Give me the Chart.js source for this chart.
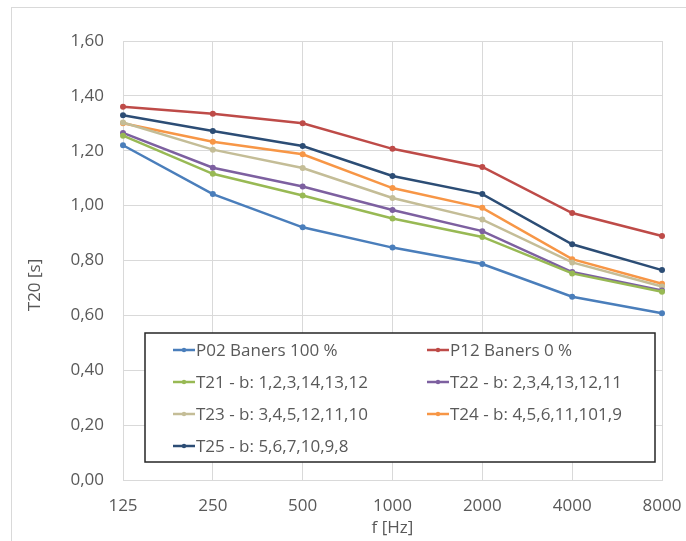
<!DOCTYPE html>
<html>
<head>
<meta charset="utf-8">
<script src="https://cdn.jsdelivr.net/npm/chart.js@4.4.1/dist/chart.umd.min.js"></script>
<style>
  html, body { margin: 0; padding: 0; background: #ffffff; }
  #wrap { width: 686px; height: 541px; }
</style>
</head>
<body>
<div id="wrap"><canvas id="chart" width="686" height="541"></canvas></div>
<script>
// frequency bands (x categories)
const frequencies = ['125', '250', '500', '1000', '2000', '4000', '8000'];

// T20 values in seconds
const p02 = [1.220, 1.042, 0.921, 0.847, 0.787, 0.668, 0.608];
const p12 = [1.360, 1.335, 1.300, 1.207, 1.141, 0.973, 0.889];
const t21 = [1.255, 1.116, 1.037, 0.953, 0.886, 0.753, 0.686];
const t22 = [1.265, 1.138, 1.070, 0.984, 0.907, 0.758, 0.691];
const t23 = [1.303, 1.204, 1.137, 1.028, 0.949, 0.793, 0.705];
const t24 = [1.300, 1.233, 1.187, 1.064, 0.992, 0.805, 0.715];
const t25 = [1.329, 1.272, 1.217, 1.108, 1.042, 0.859, 0.765];

const seriesNames = [
    'P02 Baners 100 %',
    'P12 Baners 0 %',
    'T21 - b: 1,2,3,14,13,12',
    'T22 - b: 2,3,4,13,12,11',
    'T23 - b: 3,4,5,12,11,10',
    'T24 - b: 4,5,6,11,101,9',
    'T25 - b: 5,6,7,10,9,8'
];
const seriesValues = [p02, p12, t21, t22, t23, t24, t25];
const seriesColors = ['#4a7ebb', '#be4b48', '#98b954', '#7d60a0', '#c4bd97', '#f79646', '#2c4d75'];

const yTicks = { min: 0, max: 1.6, step: 0.2 };

const FONT = '"Open Sans", "Liberation Sans", sans-serif';
const TEXT_GRAY = '#595959';
const GRID_GRAY = '#d9d9d9';

// outer frame of the chart object (only the top and left edge are in view)
const framePlugin = {
    id: 'frame',
    beforeDraw(chart) {
        const ctx = chart.ctx;
        ctx.save();
        ctx.strokeStyle = GRID_GRAY;
        ctx.lineWidth = 1;
        ctx.strokeRect(11.5, 7.5, 760, 620);
        ctx.restore();
    }
};

// vertical axis title, drawn by hand so it can sit where Excel put it
const yTitlePlugin = {
    id: 'yTitle',
    afterDraw(chart, args, opts) {
        const ctx = chart.ctx;
        ctx.save();
        ctx.translate(opts.x, opts.y);
        ctx.rotate(-Math.PI / 2);
        ctx.font = '17px ' + FONT;
        ctx.fillStyle = TEXT_GRAY;
        ctx.textAlign = 'center';
        ctx.textBaseline = 'middle';
        ctx.fillText(opts.text, 0, 0);
        ctx.restore();
    }
};

// legend box inside the plot area, two columns
const boxLegendPlugin = {
    id: 'boxLegend',
    afterDatasetsDraw(chart, args, opts) {
        const ctx = chart.ctx;
        const { left, top, right, bottom, rowHeight, firstRow, colX, lineLen } = opts;
        ctx.save();
        ctx.fillStyle = '#ffffff';
        ctx.fillRect(left, top, right - left, bottom - top);
        ctx.strokeStyle = '#262626';
        ctx.lineWidth = 1.5;
        ctx.strokeRect(left, top, right - left, bottom - top);

        ctx.font = '17px ' + FONT;
        ctx.textBaseline = 'middle';
        ctx.textAlign = 'left';
        chart.data.datasets.forEach((ds, i) => {
            const x = colX[i % 2];
            const y = firstRow + Math.floor(i / 2) * rowHeight;
            ctx.strokeStyle = ds.borderColor;
            ctx.lineWidth = 2.5;
            ctx.beginPath();
            ctx.moveTo(x, y);
            ctx.lineTo(x + lineLen, y);
            ctx.stroke();
            ctx.fillStyle = ds.borderColor;
            ctx.beginPath();
            ctx.arc(x + lineLen / 2, y, 2.2, 0, Math.PI * 2);
            ctx.fill();
            ctx.fillStyle = TEXT_GRAY;
            ctx.fillText(ds.label, x + lineLen + 1, y + 1);
        });
        ctx.restore();
    }
};

function buildDatasets() {
    return seriesNames.map((name, i) => ({
        label: name,
        data: seriesValues[i],
        borderColor: seriesColors[i],
        backgroundColor: seriesColors[i],
        borderWidth: 2.5,
        pointRadius: 3,
        pointHoverRadius: 3,
        pointBorderWidth: 0,
        tension: 0,
        fill: false
    }));
}

new Chart(document.getElementById('chart'), {
    type: 'line',
    data: {
        labels: frequencies,
        datasets: buildDatasets()
    },
    plugins: [framePlugin, yTitlePlugin, boxLegendPlugin],
    options: {
        responsive: false,
        animation: false,
        events: [],
        layout: { padding: { left: 0, top: 41, right: 24, bottom: 0 } },
        plugins: {
            legend: { display: false },
            tooltip: { enabled: false },
            yTitle: { text: 'T20 [s]', x: 35, y: 285 },
            boxLegend: {
                left: 145, top: 333, right: 655, bottom: 462,
                firstRow: 350, rowHeight: 32, colX: [173, 427], lineLen: 22
            }
        },
        scales: {
            x: {
                offset: false,
                grid: { color: GRID_GRAY, lineWidth: 1, drawTicks: false },
                border: { color: GRID_GRAY, width: 1 },
                ticks: {
                    color: TEXT_GRAY,
                    font: { family: FONT, size: 17 },
                    padding: 16,
                    maxRotation: 0,
                    autoSkip: false
                },
                title: {
                    display: true,
                    text: 'f [Hz]',
                    color: TEXT_GRAY,
                    font: { family: FONT, size: 17 },
                    padding: { top: 0, bottom: 3 }
                },
                afterFit(scale) {
                    scale.height = 61;
                    scale.paddingLeft = 0;
                    scale.paddingRight = 0;
                }
            },
            y: {
                min: yTicks.min,
                max: yTicks.max,
                grid: { color: GRID_GRAY, lineWidth: 1, drawTicks: false },
                border: { color: GRID_GRAY, width: 1 },
                ticks: {
                    stepSize: yTicks.step,
                    color: TEXT_GRAY,
                    font: { family: FONT, size: 17 },
                    padding: 19,
                    callback: v => v.toFixed(2).replace('.', ',')
                },
                afterFit(scale) {
                    scale.width = 123;
                    scale.paddingTop = 0;
                    scale.paddingBottom = 0;
                }
            }
        }
    }
});
</script>
</body>
</html>
